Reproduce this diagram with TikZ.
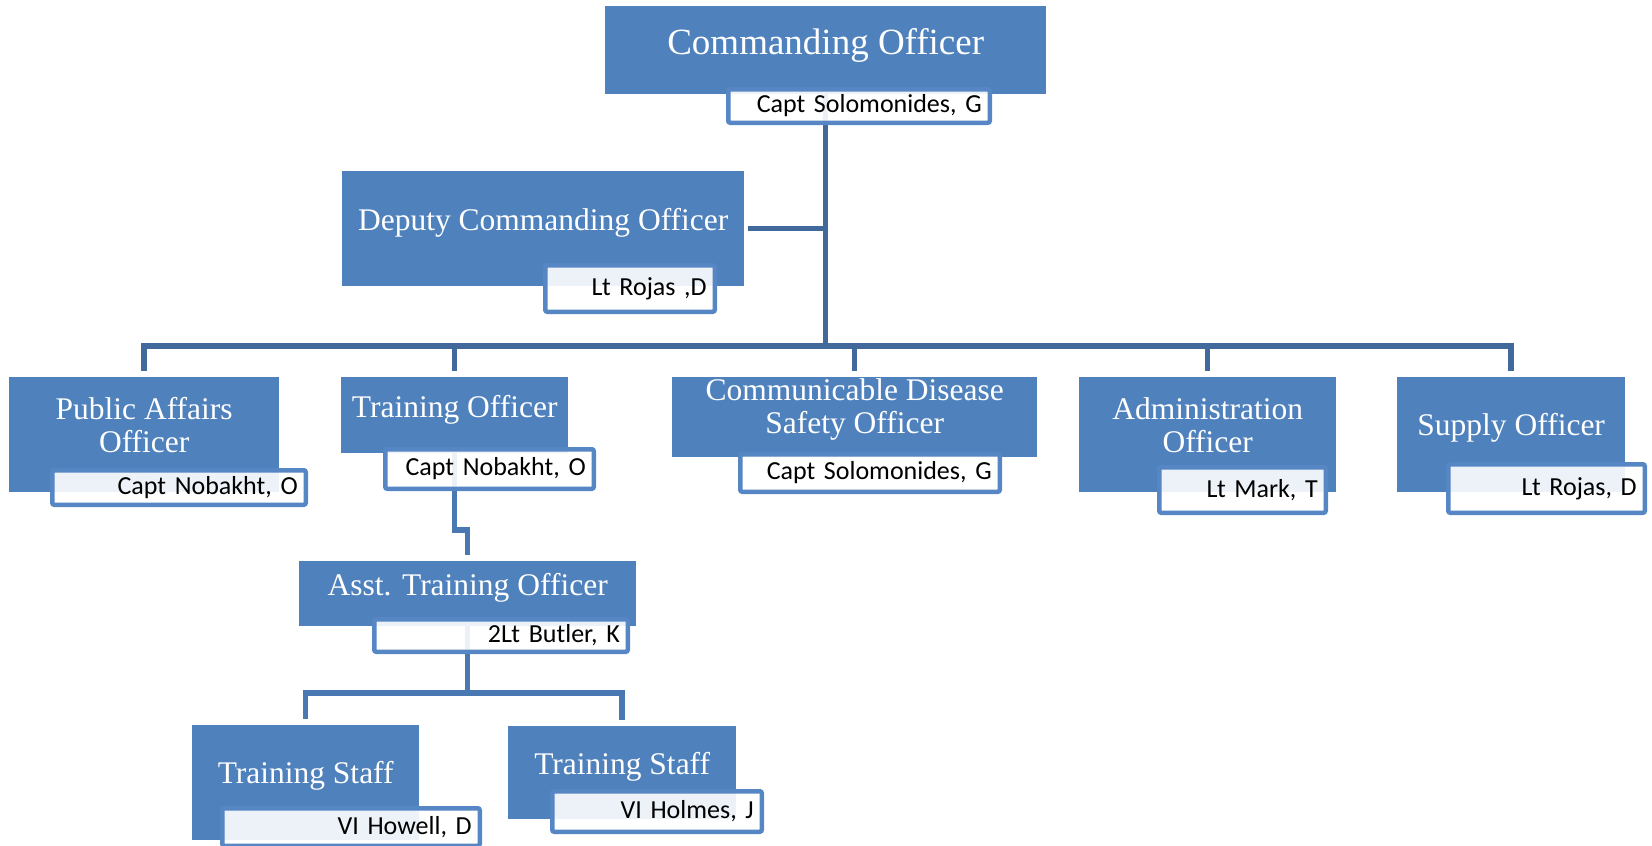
\documentclass[tikz,border=0pt]{standalone}
\usepackage{fontspec}
\setmainfont{Liberation Serif}
\newfontfamily\namefont[WordSpace=0.85]{Carlito}
\usetikzlibrary{backgrounds}
\definecolor{unitblue}{HTML}{4F81BD}
\definecolor{holderblue}{HTML}{5686C3}
\definecolor{linkblue}{HTML}{41699C}
\definecolor{sublinkblue}{HTML}{4A78B3}

\begin{document}
\begin{tikzpicture}[
        x=1pt, y=-1pt,
        unit/.style={fill=unitblue, inner sep=0pt, anchor=north west},
        title/.style={text=white, font=\fontsize{31.5}{32.5}\selectfont, align=center, inner sep=0pt, anchor=base},
        holder/.style={draw=holderblue, line width=4.5pt, rounded corners=2pt, fill=white, fill opacity=0.9, text opacity=1,
            inner xsep=8pt, inner ysep=0pt, align=right, font=\namefont\fontsize{26}{28}\selectfont},
        link/.style={draw=linkblue, line width=5.5pt},
        sublink/.style={link, draw=sublinkblue},
    ]
        \useasboundingbox (0,0) rectangle (1652,846);

        % units
        \node[unit, minimum width=441pt, minimum height=88pt] (co) at (605,6) {};
        \node[unit, minimum width=402pt, minimum height=115pt] (dep) at (342,171) {};
        \node[unit, minimum width=270pt, minimum height=115pt] (pa) at (9,377) {};
        \node[unit, minimum width=227pt, minimum height=76pt] (to) at (341,377) {};
        \node[unit, minimum width=365pt, minimum height=80pt] (cd) at (672,377) {};
        \node[unit, minimum width=257pt, minimum height=115pt] (ad) at (1079,377) {};
        \node[unit, minimum width=228pt, minimum height=115pt] (su) at (1397,377) {};
        \node[unit, minimum width=337pt, minimum height=65pt] (at) at (299,561) {};
        \node[unit, minimum width=227pt, minimum height=115pt] (tsa) at (192,725) {};
        \node[unit, minimum width=228pt, minimum height=93pt] (tsb) at (508,726) {};

        % titles (base = last line)
        \node[title, font=\fontsize{37}{40}\selectfont] (coT) at (co.north |- 0,54) {Commanding Officer};
        \node[title] (depT) at (dep.north |- 0,230) {Deputy Commanding Officer};
        \node[title] (paT) at (pa.north |- 0,452) {Public Affairs\\Officer};
        \node[title] (toT) at (to.north |- 0,417) {Training Officer};
        \node[title] (cdT) at (cd.north |- 0,433) {Communicable Disease\\Safety Officer};
        \node[title] (adT) at (ad.north |- 0,452) {Administration\\Officer};
        \node[title] (suT) at (su.north |- 0,435) {Supply Officer};
        \node[title] (atT) at (at.north |- 0,595) {Asst. Training Officer};
        \node[title] (tsaT) at (tsa.north |- 0,783) {Training Staff};
        \node[title] (tsbT) at (tsb.north |- 0,774) {Training Staff};

        % name holders
        \node[holder, text width=245.5pt, minimum height=33.5pt] (coN) at (859,106) {Capt Solomonides, G};
        \node[holder, text width=153.5pt, minimum height=46.5pt] (depN) at (630,288.5) {Lt Rojas ,D};
        \node[holder, text width=237.5pt, minimum height=34.5pt] (paN) at (179,487.5) {Capt Nobakht, O};
        \node[holder, text width=192.5pt, minimum height=39.5pt] (toN) at (489.5,469) {Capt Nobakht, O};
        \node[holder, text width=243.5pt, minimum height=37.5pt] (cdN) at (870,473) {Capt Solomonides, G};
        \node[holder, text width=150.5pt, minimum height=45.5pt] (adN) at (1242.5,490) {Lt Mark, T};
        \node[holder, text width=180.5pt, minimum height=48.5pt] (suN) at (1546.5,488.5) {Lt Rojas, D};
        \node[holder, text width=237.5pt, minimum height=32.5pt] (atN) at (501,635.5) {2Lt Butler, K};
        \node[holder, text width=241.5pt, minimum height=37.5pt] (tsaN) at (351,827) {VI Howell, D};
        \node[holder, text width=193.5pt, minimum height=40.5pt] (tsbN) at (657,811.5) {VI Holmes, J};

        % connectors
        \begin{scope}[on background layer]
            \coordinate (bus) at (co.south |- 0,346);
            \draw[link] (co) -- (bus);
            \draw[link, shorten <=4pt] (dep.east) -- (dep.east -| bus);
            \foreach \c in {pa,to,cd,ad,su}
                \draw[link] (bus) -| ([yshift=6pt]\c.north);
            \coordinate (toJog) at (to.south |- 0,530);
            \draw[sublink] (to) -- (toJog) -| ([yshift=6pt]at.north);
            \coordinate (atBus) at (at.south |- 0,693);
            \draw[sublink] (at) -- (atBus);
            \foreach \c in {tsa,tsb}
                \draw[sublink] (atBus) -| ([yshift=6pt]\c.north);
        \end{scope}
    \end{tikzpicture}
\end{document}
